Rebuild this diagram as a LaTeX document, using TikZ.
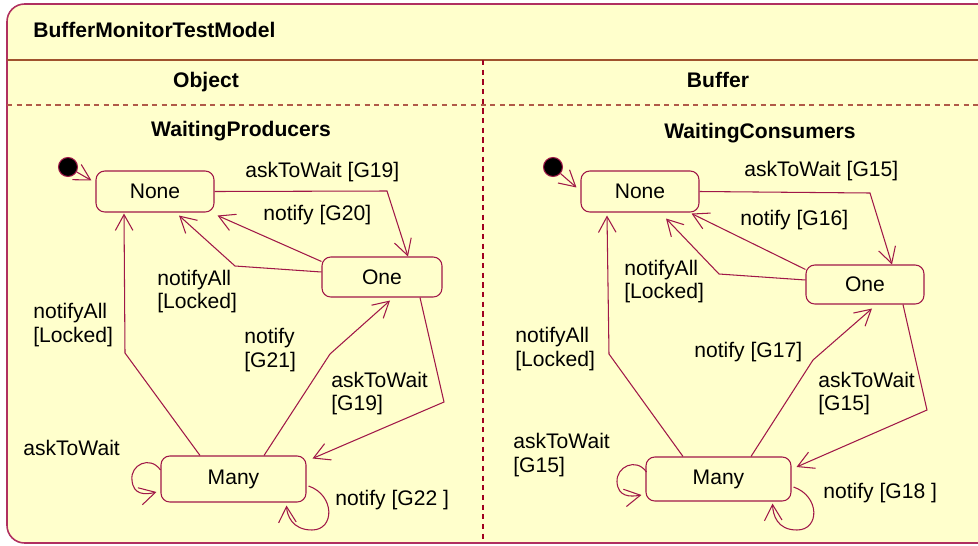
\documentclass[tikz,border=0pt]{standalone}
\usepackage{fontspec}
\setmainfont{Liberation Sans}
\usetikzlibrary{arrows.meta, calc}
\definecolor{umlfill}{HTML}{FFFFCC}
\definecolor{umlline}{HTML}{A01848}
\definecolor{framecol}{HTML}{B03060}
\definecolor{sepcol}{HTML}{A0522D}
\definecolor{dashcol}{HTML}{B05A48}
\definecolor{vdashcol}{HTML}{A00020}

\begin{document}
\begin{tikzpicture}[x=0.02cm, y=-0.02cm,
    txt/.style={font=\fontsize{12}{13.6}\selectfont},
    state/.style={txt, draw=umlline, line width=0.6pt, rounded corners=5pt, inner sep=0pt},
    initial/.style={circle, draw=umlline, fill=black, line width=0.6pt, minimum size=0.38cm, inner sep=0pt},
    trans/.style={draw=umlline, line width=0.6pt, -{Straight Barb[length=9pt, width=10pt, line width=0.6pt]}},
    lbl/.style={txt, anchor=west, align=left, inner sep=0pt},
    head/.style={txt, font=\fontsize{12}{13.6}\selectfont\bfseries, inner sep=0pt}]
    \clip (0,0) rectangle (978,545);
    \draw[framecol, line width=0.9pt, fill=umlfill, rounded corners=10pt] (7,4) rectangle (995,543);
    \draw[sepcol, line width=1pt] (7,60) -- (978,60);
    \draw[dashcol, line width=0.8pt, dash pattern=on 3pt off 2.5pt] (7,105) -- (978,105);
    \draw[vdashcol, line width=0.8pt, dash pattern=on 3pt off 2.5pt] (483,60) -- (483,543);

    \node[head, anchor=west] at (33,30) (model) {BufferMonitorTestModel};
    \node[head] at (206,82) (object) {Object};
    \node[head] at (718,80) (buffer) {Buffer};
    \node[head] at (241,131) (producers) {WaitingProducers};
    \node[head] at (760,133) (consumers) {WaitingConsumers};

    % WaitingProducers
    \node[initial] at (68,167) (lInit) {};
    \node[state, minimum width=2.36cm, minimum height=0.82cm] at (155,191.5) (lNone) {None};
    \node[state, minimum width=2.4cm, minimum height=0.8cm] at (382,277) (lOne) {One};
    \node[state, minimum width=2.9cm, minimum height=0.92cm] at (233.5,479) (lMany) {Many};
    \draw[trans] (lInit) -- ($(lNone.north west)+(-4,10)$);
    \draw[trans] (lNone.east) -- (387,191) -- ($(lOne.north)+(26,0)$);
    \draw[trans] ($(lOne.north west)+(0,5)$) -- ($(lNone.south east)+(3,3)$);
    \draw[trans] ($(lOne.west)+(0,-5)$) -- (235,266) -- ($(lNone.south)+(24,3)$);
    \draw[trans] ($(lMany.north)+(-33.5,0)$) -- (125,353) -- ($(lNone.south)+(-31,1)$);
    \draw[trans] ($(lMany.north)+(30.5,0)$) -- (330,354) -- ($(lOne.south)+(8,3)$);
    \draw[trans] ($(lOne.south)+(38,0)$) -- (444,402) -- ($(lMany.north east)+(6,3)$);
    \draw[trans] ($(lMany.west)+(0,-9)$) .. controls (150,455) and (130,465) .. (132,480)
        .. controls (133,495) and (145,495) .. ($(lMany.west)+(-4,13)$);
    \draw[trans] ($(lMany.east)+(2,7)$) .. controls (335,495) and (335,530) .. (312,530)
        .. controls (292,530) and (287,515) .. ($(lMany.south)+(53,3)$);
    \node[lbl] at (245,172) (lAskOne) {askToWait [G19]};
    \node[lbl] at (263,215) (lNotifyNone) {notify [G20]};
    \node[lbl] at (157,291.5) (lAllOne) {notifyAll\\{[Locked]}};
    \node[lbl] at (33,325) (lAllMany) {notifyAll\\{[Locked]}};
    \node[lbl] at (244,350) (lNotifyOne) {notify\\{[G21]}};
    \node[lbl] at (331,393.5) (lAskMany) {askToWait\\{[G19]}};
    \node[lbl] at (23,448) (lAskSelf) {askToWait};
    \node[lbl] at (335,500) (lNotifySelf) {notify [G22 ]};

    % WaitingConsumers
    \node[initial] at (553,167) (rInit) {};
    \node[state, minimum width=2.36cm, minimum height=0.82cm] at (640,191.5) (rNone) {None};
    \node[state, minimum width=2.36cm, minimum height=0.78cm] at (865,284.5) (rOne) {One};
    \node[state, minimum width=2.9cm, minimum height=0.88cm] at (718.5,479) (rMany) {Many};
    \draw[trans] (rInit) -- ($(rNone.north west)+(-4,17)$);
    \draw[trans] (rNone.east) -- (870,193) -- ($(rOne.north)+(27,0)$);
    \draw[trans] ($(rOne.north west)+(0,5)$) -- ($(rNone.south east)+(-8,1)$);
    \draw[trans] ($(rOne.west)+(0,-4.5)$) -- (719,274) -- ($(rNone.south)+(26,6)$);
    \draw[trans] ($(rMany.north)+(-35.5,0)$) -- (609,354) -- ($(rNone.south)+(-33,3)$);
    \draw[trans] ($(rMany.north)+(32.5,0)$) -- (813,360) -- ($(rOne.south)+(7,4)$);
    \draw[trans] ($(rOne.south)+(38,0)$) -- (927,410) -- ($(rMany.east)+(5,-12)$);
    \draw[trans] ($(rMany.west)+(1,-7)$) .. controls (636,457) and (616,467) .. (617,482)
        .. controls (618,497) and (630,497) .. ($(rMany.west)+(-4,16)$);
    \draw[trans] ($(rMany.east)+(2,8)$) .. controls (820,496) and (820,530) .. (797,530)
        .. controls (777,530) and (773,515) .. ($(rMany.south)+(54,2)$);
    \node[lbl] at (744,171) (rAskOne) {askToWait [G15]};
    \node[lbl] at (740,220) (rNotifyNone) {notify [G16]};
    \node[lbl] at (624,281.5) (rAllOne) {notifyAll\\{[Locked]}};
    \node[lbl] at (515,349) (rAllMany) {notifyAll\\{[Locked]}};
    \node[lbl] at (694,352) (rNotifyOne) {notify [G17]};
    \node[lbl] at (818,393.5) (rAskMany) {askToWait\\{[G15]}};
    \node[lbl] at (513,455) (rAskSelf) {askToWait\\{[G15]}};
    \node[lbl] at (823,493) (rNotifySelf) {notify [G18 ]};
\end{tikzpicture}
\end{document}
